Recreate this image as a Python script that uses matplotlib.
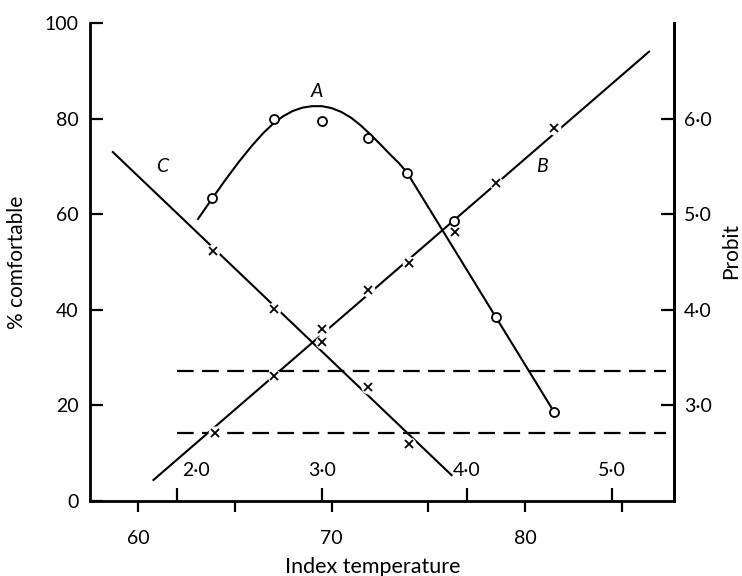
import numpy as np
import matplotlib
matplotlib.use('Agg')
import matplotlib.pyplot as plt

plt.rcParams['font.family'] = ['Lato', 'DejaVu Sans']

# circles, curve A
a_x = [63.8, 67.0, 69.5, 71.9, 73.9, 76.3, 78.5, 81.5]
a_y = [63.3, 80.0, 79.5, 76.0, 68.7, 58.6, 38.5, 18.6]
# hand drawn curve A
a_curve_x = [63.1, 63.8, 64.5, 65.2, 65.9, 66.5, 67.0, 67.5, 68.0, 68.5, 69.0, 69.5,
             70.0, 70.5, 71.0, 71.5, 72.0, 72.5, 73.0, 73.5, 73.9, 81.5]
a_curve_y = [59.0, 63.1, 67.1, 70.9, 74.4, 77.1, 79.0, 80.5, 81.6, 82.3, 82.6, 82.6,
             82.2, 81.4, 80.2, 78.6, 76.7, 74.7, 72.6, 70.6, 68.7, 18.6]

# crosses, line B
b_x = [64.0, 67.0, 69.5, 71.9, 74.0, 76.4, 78.5, 81.5]
b_y = [14.2, 26.2, 36.0, 44.1, 49.8, 56.3, 66.5, 78.0]
b_line_x = [60.8, 86.4]
b_line_y = [4.4, 94.0]

# crosses, line C
c_x = [63.9, 67.0, 69.5, 71.9, 74.0]
c_y = [52.3, 40.2, 33.3, 23.8, 11.9]
c_line_x = [58.7, 76.2]
c_line_y = [73.0, 5.4]

# dashed levels
dash_y = [27.2, 14.2]
dash_x = [62.0, 87.3]

# second scale along the x axis
sec_ticks = [2.0, 3.0, 4.0, 5.0]
sec_labels = ['2·0', '3·0', '4·0', '5·0']
probit_ticks = [3, 4, 5, 6]
probit_labels = ['3·0', '4·0', '5·0', '6·0']

def to_sec(t):
    return 2 + (t - 62.0) / 7.5

def from_sec(s):
    return 62.0 + 7.5 * (s - 2)

fig = plt.figure(figsize=(7.42, 5.76), dpi=100)
ax = fig.add_axes([90/742, 1-501/576, 584/742, 478/576])
ax.set_xlim(57.52, 87.69)
ax.set_ylim(0, 100)

lw = 1.5
ax.plot(b_line_x, b_line_y, color='k', lw=lw, zorder=2)
ax.plot(c_line_x, c_line_y, color='k', lw=lw, zorder=2)
for yv in dash_y:
    ax.plot(dash_x, [yv, yv], color='k', lw=1.6, linestyle=(0, (7.5, 3.8)), zorder=2)

# white gaps around the crosses
ax.plot(b_x, b_y, 'o', color='white', ms=10, mec='none', zorder=3)
ax.plot(c_x, c_y, 'o', color='white', ms=10, mec='none', zorder=3)

ax.plot(a_curve_x, a_curve_y, color='k', lw=lw, zorder=4)
ax.plot(a_x, a_y, 'o', mfc='white', mec='k', ms=6.5, mew=1.3, zorder=5)
ax.plot(b_x, b_y, 'x', color='k', ms=5.5, mew=1.3, zorder=5)
ax.plot(c_x, c_y, 'x', color='k', ms=5.5, mew=1.3, zorder=5)

ax.text(69.23, 85.6, 'A', style='italic', fontsize=14, ha='center', va='center')
ax.text(80.85, 69.9, 'B', style='italic', fontsize=14, ha='center', va='center')
ax.text(61.22, 69.9, 'C', style='italic', fontsize=14, ha='center', va='center')

for s, lab in zip(sec_ticks, sec_labels):
    dx = 1.0 if s == 2.0 else 0.0
    ax.text(from_sec(s) + dx, 6.3, lab, fontsize=14, ha='center', va='center')

ax.spines['top'].set_visible(False)
for sp in ['left', 'bottom', 'right']:
    ax.spines[sp].set_linewidth(2)

ax.set_xticks([60, 70, 80])
ax.set_xticks([65, 75, 85], minor=True)
ax.tick_params(axis='x', which='both', direction='out', length=8, width=1.6,
               pad=13, labelsize=14)
ax.set_yticks([0, 20, 40, 60, 80, 100])
ax.tick_params(axis='y', direction='in', length=9.5, width=1.6, pad=8, labelsize=14)

sec = ax.secondary_xaxis('bottom', functions=(to_sec, from_sec))
sec.set_xticks(sec_ticks)
sec.tick_params(direction='in', length=9.5, width=1.6, labelbottom=False)
sec.spines['bottom'].set_visible(False)

ax2 = ax.twinx()
ax2.set_ylim(2, 7)
ax2.set_yticks(probit_ticks)
ax2.set_yticklabels(probit_labels)
ax2.tick_params(axis='y', direction='in', length=9.5, width=1.6, pad=7, labelsize=14)
for sp in ['top', 'left', 'bottom']:
    ax2.spines[sp].set_visible(False)
ax2.spines['right'].set_linewidth(2)

fig.text(17/742, 1-262/576, '% comfortable', rotation=90, fontsize=15,
         ha='center', va='center')
fig.text(731/742, 1-251/576, 'Probit', rotation=90, fontsize=15,
         ha='center', va='center')
fig.text(373/742, 1-573/576, 'Index temperature', fontsize=15.5,
         ha='center', va='baseline')

fig.savefig('out.png', dpi=100)
